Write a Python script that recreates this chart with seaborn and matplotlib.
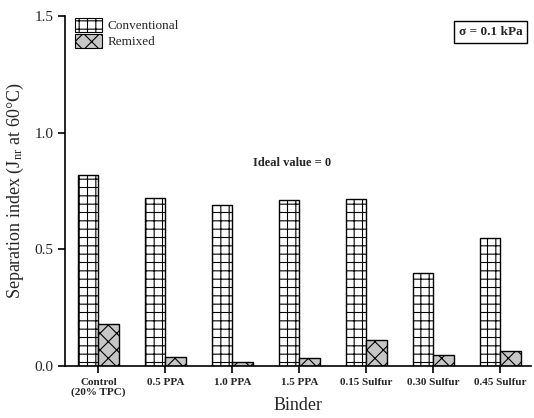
import matplotlib
matplotlib.use("Agg")
import matplotlib.pyplot as plt
from matplotlib.patches import Patch
import seaborn as sns
import pandas as pd

binders = ["Control\n(20% TPC)", "0.5 PPA", "1.0 PPA", "1.5 PPA",
           "0.15 Sulfur", "0.30 Sulfur", "0.45 Sulfur"]
conventional = [0.82, 0.72, 0.69, 0.71, 0.715, 0.40, 0.55]
remixed = [0.179, 0.037, 0.016, 0.034, 0.11, 0.047, 0.064]
series = ["Conventional", "Remixed"]

df = pd.DataFrame({
    "Binder": binders * 2,
    "Jnr": conventional + remixed,
    "Method": [series[0]] * len(binders) + [series[1]] * len(binders),
})

sns.set_style("ticks")
plt.rcParams["font.family"] = ["Liberation Serif", "DejaVu Serif"]
plt.rcParams["mathtext.fontset"] = "custom"
plt.rcParams["mathtext.rm"] = "Liberation Serif"
plt.rcParams["mathtext.it"] = "Liberation Serif:italic"
plt.rcParams["hatch.linewidth"] = 0.8

fig = plt.figure(figsize=(5.34, 4.18), dpi=100)
ax = fig.add_axes([0.1217, 0.1244, 0.872, 0.8373])

fills = {"Conventional": "white", "Remixed": "#c6c6c6"}
hatches = {"Conventional": "++", "Remixed": "xx"}

sns.barplot(data=df, x="Binder", y="Jnr", hue="Method", order=binders,
            hue_order=series, palette=fills, width=0.62, dodge=True,
            edgecolor="black", linewidth=1.0, legend=False, ax=ax)

n = len(binders)
for i, bar in enumerate(ax.patches[:2 * n]):
    bar.set_hatch(hatches[series[i // n]])
    bar.set_edgecolor("black")

ax.set_ylim(0, 1.5)
ax.set_xlim(-0.5, 6.45)
ax.set_yticks([0.0, 0.5, 1.0, 1.5])
ax.set_yticklabels(["0.0", "0.5", "1.0", "1.5"], fontsize=11)
ax.set_xticks(range(n))
ax.set_xticklabels(binders, fontsize=8, fontweight="bold", linespacing=1.1)
ax.tick_params(axis="both", direction="out", length=5, width=1.2, color="black")

for side in ["top", "right"]:
    ax.spines[side].set_visible(False)
for side in ["left", "bottom"]:
    ax.spines[side].set_linewidth(1.2)
    ax.spines[side].set_color("black")

ax.set_xlabel("Binder", fontsize=13, labelpad=0)
ax.set_ylabel("Separation index (J$_{\\rm nr}$ at 60°C)", fontsize=13, labelpad=6)

handles = [Patch(facecolor=fills[s], edgecolor="black", hatch=hatches[s],
                 linewidth=0.8, label=s) for s in series]
ax.legend(handles=handles, loc="upper left", bbox_to_anchor=(0.0045, 1.018),
          frameon=False, fontsize=9.5, handlelength=2.05, handleheight=1.25,
          handletextpad=0.45, labelspacing=0.12, borderaxespad=0.2)

ax.text(0.487, 0.58, "Ideal value = 0", transform=ax.transAxes,
        fontsize=9, fontweight="bold", ha="center", va="center")
ax.text(0.982, 0.954, "σ = 0.1 kPa", transform=ax.transAxes,
        fontsize=9.5, fontweight="bold", ha="right", va="center",
        bbox=dict(boxstyle="square,pad=0.35", facecolor="white",
                  edgecolor="black", linewidth=1.0))

fig.savefig("out.png", dpi=100, facecolor="white")
